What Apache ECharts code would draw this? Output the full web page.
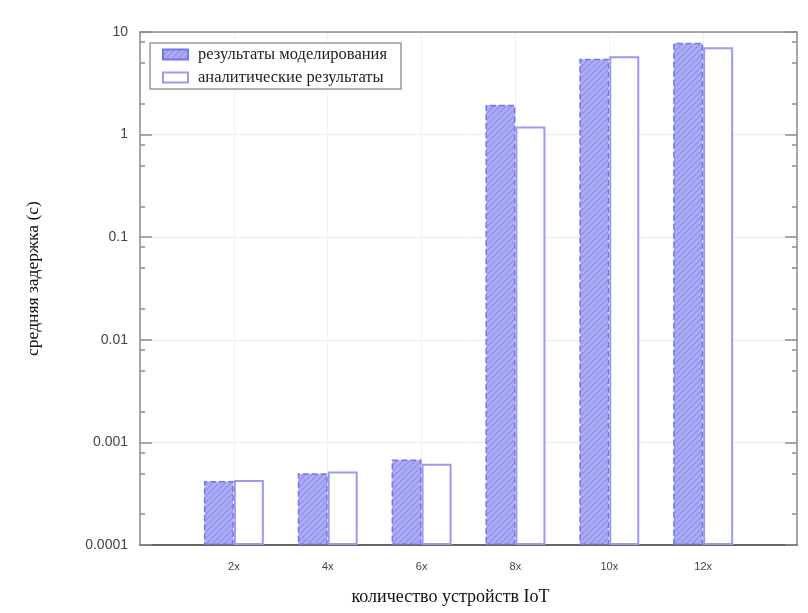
<!DOCTYPE html>
<html>
<head>
<meta charset="utf-8">
<script src="https://cdn.jsdelivr.net/npm/echarts@6/dist/echarts.min.js"></script>
<style>html,body{margin:0;padding:0;background:#fff}#c{width:808px;height:613px}</style>
</head>
<body>
<div id="c"></div>
<script>
const categories = ['2x', '4x', '6x', '8x', '10x', '12x'];
const simulated = [0.00042, 0.00050, 0.00068, 1.95, 5.5, 7.85];
const analytical = [0.00043, 0.00052, 0.00062, 1.2, 5.8, 7.1];
const seriesNames = ['результаты моделирования', 'аналитические результаты'];
const minorTickValues = [0.0002, 0.0005, 0.0008, 0.002, 0.005, 0.008, 0.02, 0.05, 0.08, 0.2, 0.5, 0.8, 2, 5, 8];
const xAxisName = 'количество устройств IoT';
const yAxisName = 'средняя задержка (с)';

// hatch pattern
const pc = document.createElement('canvas');
pc.width = 6; pc.height = 6;
const g = pc.getContext('2d');
g.fillStyle = '#adadf6';
g.fillRect(0, 0, 6, 6);
g.strokeStyle = '#8c8cea';
g.lineWidth = 1.2;
g.beginPath();
g.moveTo(0, 6); g.lineTo(6, 0);
g.moveTo(-1, 1); g.lineTo(1, -1);
g.moveTo(5, 7); g.lineTo(7, 5);
g.stroke();
const hatch = { image: pc, repeat: 'repeat' };

const chart = echarts.init(document.getElementById('c'), null, { renderer: 'canvas' });
const frameColor = '#8c8c8c';
const yBase = {
  type: 'log', logBase: 10, min: 0.0001, max: 10, startValue: 0.0001
};
chart.setOption({
  animation: false,
  backgroundColor: '#fff',
  grid: { left: 140, right: 11, top: 32, bottom: 68 },
  legend: {
    orient: 'vertical',
    left: 150, top: 43,
    padding: [3, 14, 3, 12],
    itemGap: 6,
    itemWidth: 25, itemHeight: 10,
    icon: 'rect',
    backgroundColor: '#fff',
    borderColor: '#999', borderWidth: 1.5, borderRadius: 0,
    textStyle: { fontFamily: 'Liberation Serif', fontSize: 16.5, color: '#222', padding: [0, 0, 0, 5] },
    data: seriesNames
  },
  xAxis: [
    {
      type: 'value', min: 0, max: 7, interval: 1, position: 'bottom',
      name: xAxisName, nameLocation: 'middle', nameGap: 43,
      nameTextStyle: { fontFamily: 'Liberation Serif', fontSize: 18, color: '#111', padding: [0, 36, 0, 0] },
      axisLine: { show: true, lineStyle: { color: '#666', width: 2 } },
      axisTick: { show: false },
      axisLabel: {
        margin: 16, fontFamily: 'Liberation Sans', fontSize: 11, color: '#444',
        formatter: v => categories[v - 1] || ''
      },
      splitLine: { show: true, lineStyle: { color: '#f0f0f0', width: 1 } }
    },
    {
      type: 'value', min: 0, max: 7, interval: 1, position: 'top',
      axisLine: { show: true, lineStyle: { color: frameColor, width: 1.5 } },
      axisTick: { show: false }, axisLabel: { show: false }, splitLine: { show: false }
    }
  ],
  yAxis: [
    Object.assign({}, yBase, {
      position: 'left',
      name: yAxisName, nameLocation: 'middle', nameGap: 98, nameRotate: 90,
      nameTextStyle: { fontFamily: 'Liberation Serif', fontSize: 17.5, color: '#111', padding: [0, 0, 0, 20] },
      axisLine: { show: true, lineStyle: { color: frameColor, width: 1.5 } },
      axisTick: { show: true, inside: true, length: 12, lineStyle: { color: frameColor, width: 1.5 } },
      axisLabel: { margin: 12, fontFamily: 'Liberation Sans', fontSize: 14, color: '#444' },
      splitLine: { show: true, lineStyle: { color: '#ececec', width: 1 } }
    }),
    Object.assign({}, yBase, {
      position: 'left',
      axisLine: { show: false },
      axisTick: { show: true, inside: true, length: 5, customValues: minorTickValues, lineStyle: { color: frameColor, width: 1.5 } },
      axisLabel: { show: false }, splitLine: { show: false }
    }),
    Object.assign({}, yBase, {
      position: 'right',
      axisLine: { show: true, lineStyle: { color: frameColor, width: 1.5 } },
      axisTick: { show: true, inside: true, length: 12, lineStyle: { color: frameColor, width: 1.5 } },
      axisLabel: { show: false }, splitLine: { show: false }
    }),
    Object.assign({}, yBase, {
      position: 'right',
      axisLine: { show: false },
      axisTick: { show: true, inside: true, length: 5, customValues: minorTickValues, lineStyle: { color: frameColor, width: 1.5 } },
      axisLabel: { show: false }, splitLine: { show: false }
    })
  ],
  series: [
    {
      name: seriesNames[0], type: 'bar', xAxisIndex: 0, yAxisIndex: 0,
      barWidth: 30, barGap: '0%',
      itemStyle: { color: hatch, borderColor: '#7676e4', borderWidth: 1.5, borderType: 'dashed' },
      data: simulated.map((v, i) => [i + 1, v])
    },
    {
      name: seriesNames[1], type: 'bar', xAxisIndex: 0, yAxisIndex: 0,
      barWidth: 30, barGap: '0%',
      itemStyle: { color: '#ffffff', borderColor: '#9a9af0', borderWidth: 2 },
      data: analytical.map((v, i) => [i + 1, v])
    }
  ]
});
</script>
</body>
</html>
